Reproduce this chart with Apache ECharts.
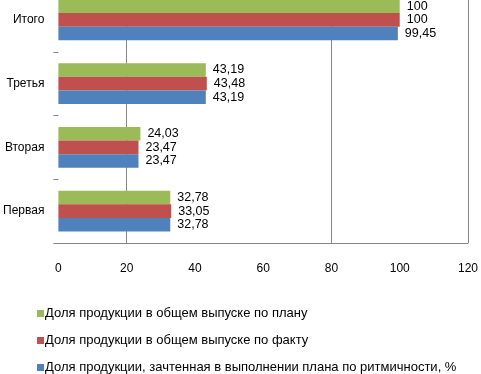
<!DOCTYPE html>
<html><head><meta charset="utf-8">
<script src="https://cdn.jsdelivr.net/npm/echarts@6/dist/echarts.min.js"></script>
<style>html,body{margin:0;padding:0;background:#fff;overflow:hidden}#c{width:481px;height:386px;margin-top:-12px}</style>
</head><body><div id="c"></div>
<script>
const categories = ['Первая', 'Вторая', 'Третья', 'Итого'];
const planShare = [32.78, 24.03, 43.19, 100];
const factShare = [33.05, 23.47, 43.48, 100];
const rhythmShare = [32.78, 23.47, 43.19, 99.45];
const seriesNames = [
  'Доля продукции в общем выпуске по плану',
  'Доля продукции в общем выпуске по факту',
  'Доля продукции, зачтенная в выполнении плана по ритмичности, %'
];
const xTicks = [0, 20, 40, 60, 80, 100, 120];

const font = 'Liberation Sans';
const fmt = p => String(p.value).replace('.', ',');
function mk(name, data, color) {
  return {
    name, type: 'bar', data,
    itemStyle: { color },
    barGap: '0%', barCategoryGap: '36%',
    label: { show: true, position: 'right', distance: 7, formatter: fmt,
      color: '#000', fontFamily: font, fontSize: 12.5 }
  };
}
const chart = echarts.init(document.getElementById('c'));
chart.setOption({
  animation: false,
  textStyle: { fontFamily: font },
  grid: { left: 58, right: 13, top: 0, bottom: 131, containLabel: false },
  xAxis: {
    type: 'value', min: xTicks[0], max: xTicks[xTicks.length - 1], interval: 20,
    axisLine: { show: true, lineStyle: { color: '#868686' } },
    axisTick: { show: false },
    axisLabel: { margin: 20, color: '#000', fontFamily: font, fontSize: 12 },
    splitLine: { show: true, lineStyle: { color: ['rgba(0,0,0,0)', '#868686', 'rgba(0,0,0,0)', 'rgba(0,0,0,0)', '#868686', 'rgba(0,0,0,0)', '#868686'] } }
  },
  yAxis: {
    type: 'category', data: categories,
    axisLine: { show: false },
    axisTick: { show: true, length: 5, lineStyle: { color: '#868686' } },
    axisLabel: { margin: 14, color: '#000', fontFamily: font, fontSize: 12 }
  },
  legend: {
    orient: 'vertical', left: 32, top: 314, itemGap: 14, height: 90, width: 460,
    itemWidth: 7, itemHeight: 7, icon: 'rect',
    data: seriesNames,
    textStyle: { fontFamily: font, fontSize: 13, color: '#000', padding: [0, 0, 0, -4] }
  },
  series: [
    mk(seriesNames[0], planShare, '#9BBB59'),
    mk(seriesNames[1], factShare, '#C0504D'),
    mk(seriesNames[2], rhythmShare, '#4F81BD')
  ]
});
</script></body></html>
